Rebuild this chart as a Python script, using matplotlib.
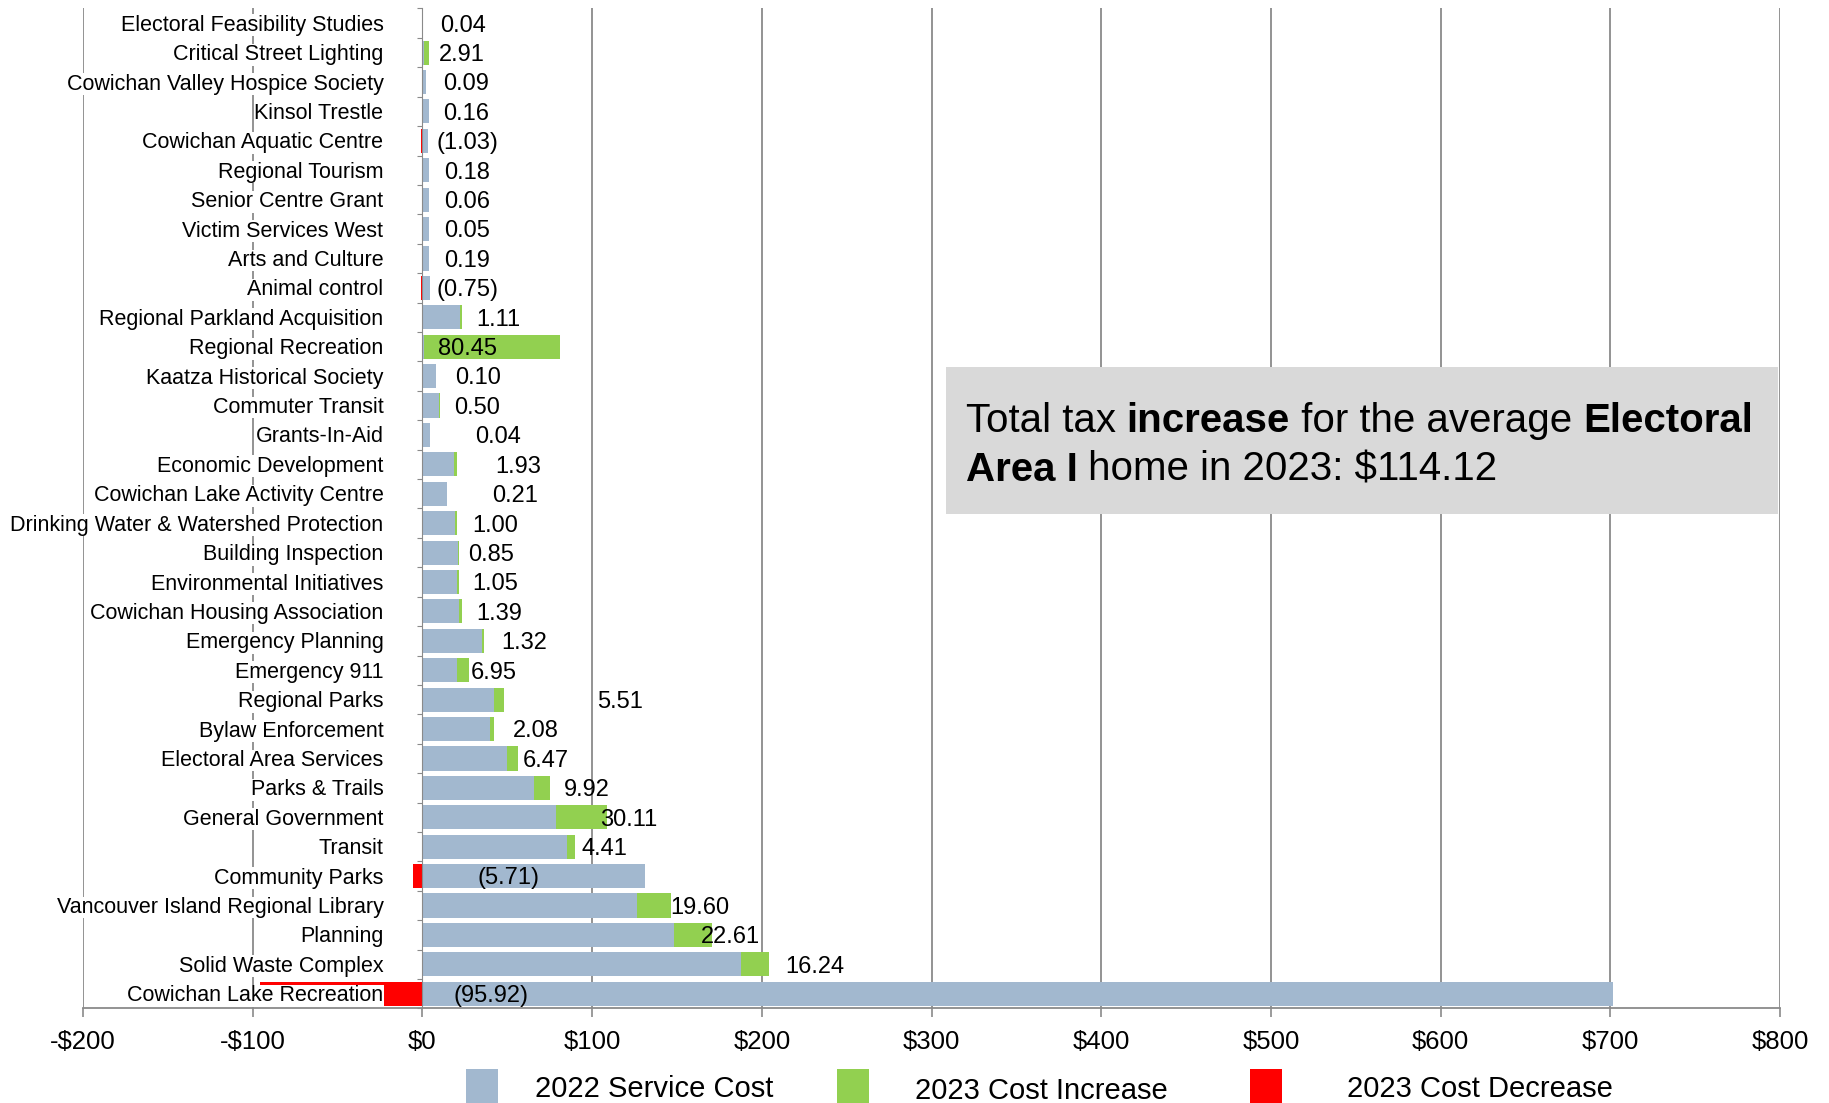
import numpy as np
import matplotlib.pyplot as plt
from matplotlib.patches import Rectangle

plt.rcParams['font.family'] = ['Liberation Sans', 'DejaVu Sans']

services = [
    "Electoral Feasibility Studies", "Critical Street Lighting",
    "Cowichan Valley Hospice Society", "Kinsol Trestle",
    "Cowichan Aquatic Centre", "Regional Tourism", "Senior Centre Grant",
    "Victim Services West", "Arts and Culture", "Animal control",
    "Regional Parkland Acquisition", "Regional Recreation",
    "Kaatza Historical Society", "Commuter Transit", "Grants-In-Aid",
    "Economic Development", "Cowichan Lake Activity Centre",
    "Drinking Water & Watershed Protection", "Building Inspection",
    "Environmental Initiatives", "Cowichan Housing Association",
    "Emergency Planning", "Emergency 911", "Regional Parks",
    "Bylaw Enforcement", "Electoral Area Services", "Parks & Trails",
    "General Government", "Transit", "Community Parks",
    "Vancouver Island Regional Library", "Planning", "Solid Waste Complex",
    "Cowichan Lake Recreation",
]
cost_2022 = [0.5, 0.8, 2.3, 3.6, 3.3, 3.7, 3.9, 4.0, 3.9, 4.2,
             22.0, 0.7, 7.8, 9.6, 4.4, 18.5, 14.4, 19.4, 20.8, 20.5,
             21.8, 35.0, 20.3, 42.4, 40.0, 49.6, 65.5, 78.7, 85.3, 131.1,
             126.6, 148.2, 187.7, 701.4]
change_2023 = [0.04, 2.91, 0.09, 0.16, -1.03, 0.18, 0.06, 0.05, 0.19, -0.75,
               1.11, 80.45, 0.10, 0.50, 0.04, 1.93, 0.21, 1.00, 0.85, 1.05,
               1.39, 1.32, 6.95, 5.51, 2.08, 6.47, 9.92, 30.11, 4.41, -5.71,
               19.60, 22.61, 16.24, -95.92]
# where the value labels sit (x, in $)
label_x = [23.7, 23.4, 25.5, 25.8, 26.5, 26.5, 26.5, 26.5, 26.5, 26.5,
           44.7, 26.8, 32.7, 32.3, 44.4, 56.4, 54.3, 42.7, 40.6, 42.7,
           45.4, 60.2, 42.3, 116.2, 67.1, 72.5, 96.9, 121.7, 107.3, 50.9,
           163.3, 181.8, 231.3, 40.2]
x_ticks = list(range(-200, 801, 100))
legend_names = ["2022 Service Cost", "2023 Cost Increase", "2023 Cost Decrease"]

BLUE = '#a2b8cf'
GREEN = '#92d050'
RED = '#ff0000'
GRID = '#8a8a8a'

n = len(services)
y = np.arange(n)
cost = np.array(cost_2022)
change = np.array(change_2023)
inc = np.clip(change, 0, None)
dec = np.clip(change, None, 0)

fig = plt.figure(figsize=(18.29, 11.03), dpi=100)
ax = fig.add_axes([0.0454, 0.0857, 0.9278, 0.9066])

for gx in x_ticks:
    if gx != 0:
        ax.axvline(gx, color=GRID, lw=1.3, zorder=0.5)

ax.barh(y, cost, height=0.82, color=BLUE, zorder=1)
ax.barh(y, inc, left=cost, height=0.82, color=GREEN, zorder=1)
ax.barh(y, dec, height=0.82, color=RED, zorder=1)

ax.set_xlim(-200, 800)
ax.set_ylim(n - 0.5, -0.5)
ax.set_xticks(x_ticks)
ax.set_xticklabels([f"${v}" if v >= 0 else f"-${-v}" for v in x_ticks])
ax.tick_params(axis='x', length=6.5, width=1.2, color=GRID, pad=9, labelsize=18.5)

ax.set_yticks(y)
ax.set_yticklabels([])
ax.set_yticks(np.arange(n + 1) - 0.5, minor=True)
ax.tick_params(axis='y', which='major', length=0)
ax.tick_params(axis='y', which='minor', length=3.8, width=0.8, color=GRID)

# category names with white backing, sitting over the negative side
for i, name in enumerate(services):
    ax.annotate(name, xy=(0, i), xytext=(-39, -2), textcoords='offset pixels',
                ha='right', va='center', fontsize=15.5, zorder=1.5,
                bbox=dict(facecolor='white', edgecolor='none', pad=0.3))

for s in ['top', 'right']:
    ax.spines[s].set_visible(False)
ax.spines['left'].set_position(('data', 0))
ax.spines['left'].set_color(GRID)
ax.spines['left'].set_linewidth(0.8)
ax.spines['bottom'].set_color(GRID)
ax.spines['bottom'].set_linewidth(1.3)

for i, v in enumerate(change):
    txt = f"{v:.2f}" if v >= 0 else f"({-v:.2f})"
    ax.text(label_x[i], i + 0.08, txt, ha='center', va='center', fontsize=17, zorder=3)

# summary box
ax.add_patch(Rectangle((308.3, 11.69), 799 - 308.3, 5.0, facecolor='#d9d9d9',
                       edgecolor='none', zorder=1.2))
renderer = fig.canvas.get_renderer()


def piece_width(s, weight):
    t1 = fig.text(0, 0, s + '|', fontsize=29, fontweight=weight)
    t2 = fig.text(0, 0, '|', fontsize=29, fontweight=weight)
    w = t1.get_window_extent(renderer).width - t2.get_window_extent(renderer).width
    t1.remove()
    t2.remove()
    return w


lines = [
    (13.90, [("Total tax ", 'normal'), ("increase", 'bold'),
             (" for the average ", 'normal'), ("Electoral", 'bold')]),
    (15.55, [("Area I", 'bold'), (" home in 2023: $114.12", 'normal')]),
]
for yy, parts in lines:
    dx = 0
    for s, w in parts:
        ax.annotate(s, xy=(320.1, yy), xytext=(dx, 0), textcoords='offset pixels',
                    fontsize=29, fontweight=w, ha='left', va='baseline', zorder=3)
        dx += piece_width(s, w)

# legend along the bottom edge
W, H = 1829, 1103
legend_colors = [BLUE, GREEN, RED]
patch_x = [466, 837, 1250]
text_x = [535, 915, 1347]
text_base = [1097, 1099, 1097]
for c, px, tx, tb, name in zip(legend_colors, patch_x, text_x, text_base, legend_names):
    fig.add_artist(Rectangle((px / W, 1 - 1115 / H), 32 / W, 46 / H,
                             transform=fig.transFigure, facecolor=c, edgecolor='none'))
    fig.text(tx / W, 1 - tb / H, name, fontsize=21, va='baseline', ha='left')

fig.savefig('out.png', dpi=100)
